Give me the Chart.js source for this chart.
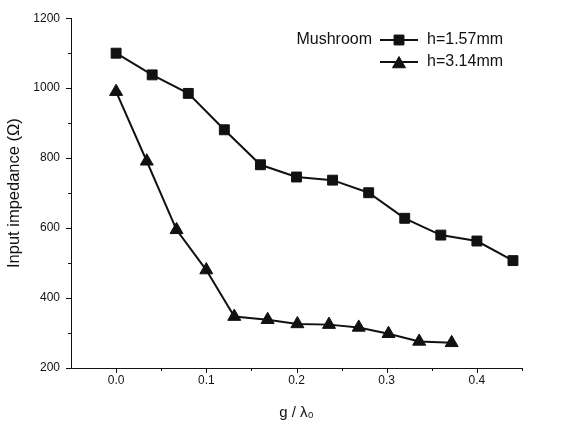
<!DOCTYPE html>
<html>
<head>
<meta charset="utf-8">
<script src="https://cdn.jsdelivr.net/npm/chart.js@4"></script>
<style>
  html, body { margin: 0; padding: 0; background: #fff; }
  #wrap { width: 566px; height: 428px; }
</style>
</head>
<body>
<div id="wrap"><canvas id="impChart" width="566" height="428"></canvas></div>
<script>
// values
const gSquare = [0, 0.04, 0.08, 0.12, 0.16, 0.2, 0.24, 0.28, 0.32, 0.36, 0.4, 0.44];
const zSquare = [1100, 1038, 985, 881, 781, 746, 737, 701, 628, 580, 563, 507];
const gTriangle = [0, 0.034, 0.067, 0.1, 0.131, 0.168, 0.201, 0.236, 0.269, 0.302, 0.336, 0.372];
const zTriangle = [990, 791, 595, 480, 347, 338, 326, 324, 316, 298, 276, 272];

const xMajor = [0, 0.1, 0.2, 0.3, 0.4];
const xMinor = [0.05, 0.15, 0.25, 0.35, 0.45];
const yMajor = [200, 400, 600, 800, 1000, 1200];
const yMinor = [300, 500, 700, 900, 1100];

const seriesLabels = ["h=1.57mm", "h=3.14mm"];
const legendTitle = "Mushroom";

const FONT = "'Liberation Sans', Arial, sans-serif";
const INK = "#111";

const toPoints = (xs, ys) => xs.map((x, i) => ({ x: x, y: ys[i] }));

// outward tick marks (major + minor) and the legend block
const decorPlugin = {
  id: "decor",
  afterDraw(chart) {
    const ctx = chart.ctx;
    const xs = chart.scales.x, ys = chart.scales.y;
    const area = chart.chartArea;
    ctx.save();
    ctx.strokeStyle = INK;
    ctx.lineWidth = 1;
    ctx.beginPath();
    xMajor.forEach(v => { const p = Math.round(xs.getPixelForValue(v)) + 0.5; ctx.moveTo(p, area.bottom); ctx.lineTo(p, area.bottom + 5); });
    xMinor.forEach(v => { const p = Math.round(xs.getPixelForValue(v)) + 0.5; ctx.moveTo(p, area.bottom); ctx.lineTo(p, area.bottom + 3); });
    yMajor.forEach(v => { const p = Math.round(ys.getPixelForValue(v)) + 0.5; ctx.moveTo(area.left, p); ctx.lineTo(area.left - 5, p); });
    yMinor.forEach(v => { const p = Math.round(ys.getPixelForValue(v)) + 0.5; ctx.moveTo(area.left, p); ctx.lineTo(area.left - 3, p); });
    ctx.stroke();

    // legend
    const rowY = [40, 62];
    ctx.font = "16px " + FONT;
    ctx.fillStyle = INK;
    ctx.textBaseline = "middle";
    ctx.textAlign = "right";
    ctx.fillText(legendTitle, 372, rowY[0]);
    chart.data.datasets.forEach((ds, i) => {
      const y = rowY[i];
      ctx.strokeStyle = INK;
      ctx.lineWidth = 2;
      ctx.beginPath();
      ctx.moveTo(380, y);
      ctx.lineTo(418, y);
      ctx.stroke();
      ctx.fillStyle = INK;
      ctx.lineWidth = 1;
      const cy = ds.pointStyle === "triangle" ? y + 2 : y;
      Chart.helpers.drawPoint(ctx, { pointStyle: ds.pointStyle, radius: ds.pointRadius, rotation: 0, borderWidth: 1 }, 399, cy);
      ctx.textAlign = "left";
      ctx.fillText(ds.label, 427, y);
    });
    ctx.restore();
  }
};

const ctx = document.getElementById("impChart").getContext("2d");
new Chart(ctx, {
  type: "line",
  data: {
    datasets: [
      {
        label: seriesLabels[0],
        data: toPoints(gSquare, zSquare),
        borderColor: INK,
        backgroundColor: INK,
        pointBackgroundColor: INK,
        pointBorderColor: INK,
        borderWidth: 2,
        pointStyle: "rect",
        pointRadius: 7,
        pointBorderWidth: 1,
        tension: 0
      },
      {
        label: seriesLabels[1],
        data: toPoints(gTriangle, zTriangle),
        borderColor: INK,
        backgroundColor: INK,
        pointBackgroundColor: INK,
        pointBorderColor: INK,
        borderWidth: 2,
        pointStyle: "triangle",
        pointRadius: 7.5,
        pointBorderWidth: 1,
        tension: 0
      }
    ]
  },
  options: {
    responsive: false,
    animation: false,
    layout: { padding: { left: 0, top: 16, right: 44, bottom: 0 } },
    plugins: {
      legend: { display: false },
      tooltip: { enabled: false }
    },
    scales: {
      x: {
        type: "linear",
        min: -0.05,
        max: 0.45,
        afterBuildTicks: s => { s.ticks = xMajor.map(v => ({ value: v })); },
        afterFit: s => { s.height = 60; },
        grid: { display: false, drawTicks: false },
        border: { display: true, color: INK, width: 1 },
        ticks: {
          padding: 5,
          color: INK,
          font: { family: FONT, size: 12 },
          callback: v => v.toFixed(1)
        },
        title: {
          display: true,
          text: "g / λ₀",
          color: INK,
          font: { family: FONT, size: 15 },
          padding: { top: 0, bottom: 6 }
        }
      },
      y: {
        type: "linear",
        min: 200,
        max: 1200,
        afterBuildTicks: s => { s.ticks = yMajor.map(v => ({ value: v })); },
        afterFit: s => { s.width = 71; },
        grid: { display: false, drawTicks: false },
        border: { display: true, color: INK, width: 1 },
        ticks: {
          padding: 11,
          color: INK,
          font: { family: FONT, size: 12 },
          callback: v => String(v)
        },
        title: {
          display: true,
          text: "Input impedance (Ω)",
          color: INK,
          font: { family: FONT, size: 16.5 },
          padding: { top: 5, bottom: 0 }
        }
      }
    }
  },
  plugins: [decorPlugin]
});
</script>
</body>
</html>
